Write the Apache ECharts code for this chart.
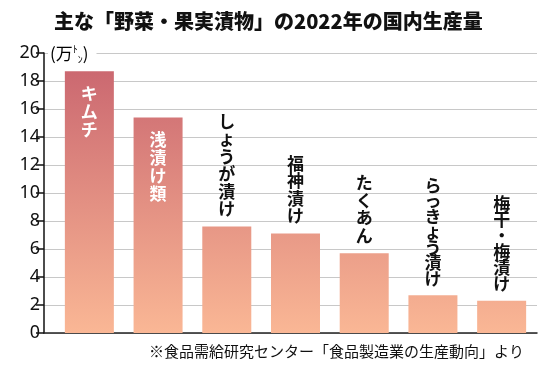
<!DOCTYPE html>
<html><head><meta charset="utf-8">
<script src="https://cdn.jsdelivr.net/npm/echarts@6/dist/echarts.min.js"></script>
<style>html,body{margin:0;padding:0;background:#fff}#c{width:550px;height:374px}</style>
</head><body><div id="c"></div>
<script>
const categories = ['キムチ','浅漬け類','しょうが漬け','福神漬け','たくあん','らっきょう漬け','梅干・梅漬け'];
const values = [18.7, 15.4, 7.6, 7.1, 5.7, 2.7, 2.3];
const insideLabel = [true, true, false, false, false, false, false];
const labelLineHeights = [18, 18, 17.5, 17.5, 17.5, 15.5, 16];
const yTicks = [0,2,4,6,8,10,12,14,16,18,20];
const titleText = '主な「野菜・果実漬物」の2022年の国内生産量';
const sourceText = '※食品需給研究センター「食品製造業の生産動向」より';

const FONT = '"Noto Sans CJK JP", "Noto Sans", sans-serif';
const chart = echarts.init(document.getElementById('c'), null, {renderer:'canvas'});

const grad = {type:'linear', x:0, y:53, x2:0, y2:333, global:true,
  colorStops:[{offset:0,color:'#c8636e'},{offset:1,color:'#fab795'}]};

const barData = values.map((v,i)=>({
  value: v,
  label: insideLabel[i] ? {
    show:true, position:'insideTop', distance:13, color:'#fff', fontWeight:'bold',
    fontSize:17, lineHeight:labelLineHeights[i], fontFamily:FONT
  } : {
    show:true, position:'top', distance:9, color:'#111', fontWeight:'bold',
    fontSize:17, lineHeight:labelLineHeights[i], fontFamily:FONT
  }
}));

chart.setOption({
  animation:false,
  title:{text:titleText, left:49, top:6,
    textStyle:{fontSize:20, fontWeight:900, color:'#111', fontFamily:FONT}},
  grid:[
    {left:44, right:13, top:53, bottom:41},
    {left:55, right:14, top:53, bottom:41}
  ],
  xAxis:[
    {gridIndex:0, type:'category', data:categories, axisLabel:{show:false}, axisTick:{show:false},
     axisLine:{lineStyle:{color:'#222', width:1.5}}},
    {gridIndex:1, type:'category', data:categories, show:false}
  ],
  yAxis:[
    {gridIndex:0, type:'value', min:yTicks[0], max:yTicks[yTicks.length-1], interval:2,
     axisLine:{show:true, lineStyle:{color:'#111', width:1.5}},
     axisTick:{show:true, length:8, lineStyle:{color:'#111', width:1.5}},
     axisLabel:{fontSize:18, color:'#111', margin:4, fontFamily:'"Noto Sans", sans-serif'},
     splitLine:{lineStyle:{color:'#c8c8c8', width:1}}},
    {gridIndex:1, type:'value', min:yTicks[0], max:yTicks[yTicks.length-1], interval:2, show:false,
     splitLine:{show:false}}
  ],
  series:[{
    type:'bar', xAxisIndex:1, yAxisIndex:1, data:barData, barWidth:49,
    itemStyle:{color:grad},
    label:{formatter:p=>p.name.split('').join('\n')}
  }],
  graphic:[
    {type:'text', left:48, top:44, z:100,
     style:{text:'{a|(万}{s|ﾄ}{t|ﾝ}{a|)}', backgroundColor:'#fff', padding:[0,8,0,2],
       rich:{
         a:{fontSize:17, color:'#111', fontFamily:FONT, lineHeight:20},
         s:{fontSize:10, color:'#111', fontFamily:FONT, verticalAlign:'top', lineHeight:14},
         t:{fontSize:10, color:'#111', fontFamily:FONT, verticalAlign:'bottom', lineHeight:12}
       }}},
    {type:'text', right:26, top:344,
     style:{text:sourceText, fontSize:15, fill:'#111', fontFamily:FONT}}
  ]
});
</script></body></html>
